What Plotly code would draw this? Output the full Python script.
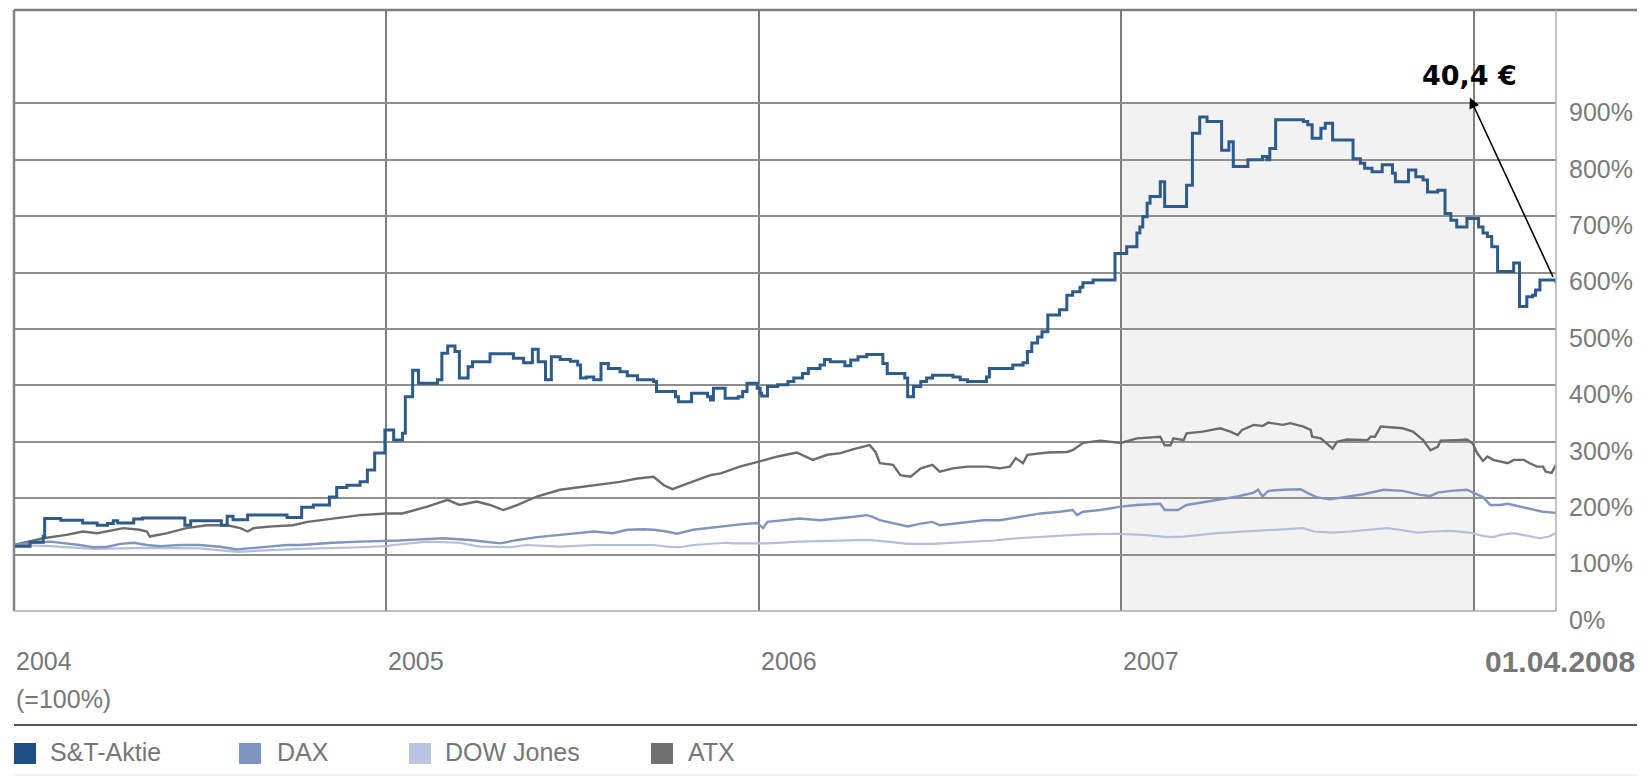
import plotly.graph_objects as go

# ---------------- data ----------------
# x = trading-day index since the start of 2004 (Handelstage)
year_labels = ["2004", "2005", "2006", "2007"]
year_start_day = [0, 255, 510, 758, 1000]   # 2004, 2005, 2006, 2007, 2008
last_day = 1056                              # 01.04.2008
end_label = "01.04.2008"
base_label = "(=100%)"
price_label = "40,4 €"
price_label_day = 997
price_label_pct = 950
arrow_tip_pct = 910

y_ticks = [0, 100, 200, 300, 400, 500, 600, 700, 800, 900]
y_ticktext = [f"{v}%" for v in y_ticks]

series_names = ["S&T-Aktie", "DAX", "DOW Jones", "ATX"]
series_colors = ["#1d4f86", "#7d95c1", "#b9c5e1", "#707070"]

st_day = [0, 11, 20, 21, 32, 47, 57, 64, 68, 71, 82, 88, 116, 117, 121, 136, 142, 146, 150, 160,
          173, 187, 196, 197, 205, 213, 216, 221, 228, 237, 242, 247, 254, 260, 266, 268, 273, 277,
          290, 293, 297, 302, 305, 311, 314, 326, 338, 342, 349, 355, 359, 364, 368, 374, 381, 386,
          388, 392, 397, 402, 407, 415, 420, 427, 438, 440, 453, 455, 464, 475, 477, 479, 487, 496,
          499, 502, 509, 511, 512, 516, 523, 530, 534, 540, 544, 552, 555, 559, 569, 573, 578, 584,
          595, 598, 610, 612, 616, 621, 625, 629, 643, 648, 653, 666, 668, 684, 691, 694, 697, 701,
          704, 708, 716, 721, 725, 730, 732, 739, 754, 762, 769, 771, 773, 776, 778, 785, 788, 803,
          807, 812, 817, 827, 832, 835, 845, 855, 858, 860, 864, 883, 886, 889, 895, 898, 903, 917,
          922, 925, 930, 937, 944, 946, 955, 960, 965, 968, 975, 980, 984, 988, 995, 1003, 1006,
          1009, 1012, 1016, 1027, 1031, 1036, 1040, 1042, 1045, 1052, 1056]
st_val = [115, 122, 132, 164, 161, 156, 152, 155, 160, 156, 163, 165, 165, 152, 160, 160, 152, 168, 162, 170,
          170, 166, 166, 184, 188, 188, 202, 219, 223, 229, 250, 280, 321, 303, 315, 380, 427, 404,
          410, 457, 470, 460, 413, 433, 442, 456, 456, 448, 440, 464, 442, 410, 451, 446, 443, 436,
          413, 415, 410, 439, 430, 424, 417, 410, 407, 389, 380, 371, 386, 380, 374, 395, 377, 380,
          389, 404, 395, 386, 381, 398, 401, 407, 413, 421, 430, 436, 446, 442, 435, 445, 451, 455,
          439, 421, 413, 380, 398, 407, 413, 418, 415, 410, 407, 415, 430, 436, 440, 460, 475, 486,
          495, 525, 534, 560, 566, 574, 582, 587, 634, 646, 670, 681, 699, 723, 735, 761, 717, 755,
          847, 876, 868, 817, 832, 788, 800, 806, 800, 820, 871, 868, 862, 838, 856, 865, 835, 802,
          794, 785, 779, 791, 776, 761, 782, 770, 764, 743, 746, 705, 693, 681, 696, 681, 670,
          664, 646, 602, 617, 540, 557, 560, 569, 587, 587, 581]

dax_day = [0, 13, 25, 36, 45, 54, 64, 73, 82, 91, 100, 114, 127, 141, 153, 160, 173, 187, 196, 210,
           218, 237, 255, 264, 278, 294, 312, 324, 333, 345, 358, 374, 388, 397, 410, 420, 431, 438,
           447, 454, 465, 484, 499, 509, 513, 516, 529, 538, 552, 566, 575, 584, 588, 593, 598, 607,
           612, 621, 629, 634, 643, 653, 664, 675, 689, 703, 716, 725, 728, 732, 744, 758, 769, 785,
           788, 797, 803, 812, 824, 838, 849, 852, 855, 859, 869, 881, 886, 892, 901, 915, 924, 938,
           951, 963, 970, 975, 984, 995, 999, 1006, 1011, 1018, 1023, 1032, 1040, 1047, 1056]
dax_val = [117, 121, 123, 120, 117, 113, 114, 119, 121, 117, 115, 117, 117, 114, 109, 111, 114, 117, 117, 120,
           121, 123, 124, 125, 127, 129, 126, 123, 120, 126, 131, 135, 138, 141, 138, 144, 145, 144,
           141, 137, 144, 150, 154, 156, 147, 158, 161, 164, 161, 164, 167, 170, 167, 161, 158, 152,
           150, 155, 158, 152, 155, 158, 161, 161, 167, 173, 176, 179, 170, 176, 179, 185, 188, 190,
           179, 179, 188, 192, 197, 203, 210, 215, 203, 213, 215, 216, 209, 202, 198, 203, 207, 215,
           213, 206, 204, 210, 213, 215, 210, 202, 188, 188, 190, 185, 180, 176, 174]

dow_day = [0, 25, 54, 93, 127, 153, 168, 196, 237, 255, 260, 283, 305, 319, 340, 351, 374, 397, 420,
           438, 447, 456, 465, 488, 492, 516, 538, 561, 584, 598, 612, 629, 653, 671, 687, 710, 732,
           755, 773, 790, 801, 824, 842, 858, 869, 883, 890, 903, 915, 927, 940, 949, 961, 972, 984,
           997, 1006, 1013, 1018, 1027, 1038, 1045, 1051, 1056]
dow_val = [117, 115, 110, 112, 111, 105, 107, 110, 113, 115, 117, 123, 121, 114, 113, 117, 114, 117, 117,
           117, 114, 113, 117, 121, 120, 120, 123, 125, 126, 123, 119, 119, 123, 125, 129, 133, 136,
           137, 135, 131, 132, 138, 141, 144, 145, 147, 141, 139, 141, 144, 147, 144, 139, 141, 142,
           139, 133, 131, 135, 138, 133, 129, 132, 138]

atx_day = [0, 20, 36, 47, 57, 68, 75, 86, 91, 93, 105, 118, 132, 146, 155, 160, 164, 177, 191, 201,
           218, 237, 255, 266, 283, 297, 305, 317, 326, 335, 345, 358, 374, 397, 415, 427, 438, 445,
           451, 461, 477, 484, 497, 510, 523, 536, 547, 557, 566, 575, 582, 586, 590, 593, 602, 607,
           614, 621, 629, 634, 643, 653, 666, 675, 682, 686, 691, 694, 708, 721, 725, 732, 744, 758,
           769, 785, 788, 792, 794, 801, 803, 814, 826, 833, 838, 841, 849, 855, 859, 869, 874, 883,
           888, 889, 895, 899, 903, 906, 913, 927, 929, 932, 936, 951, 958, 965, 970, 975, 977, 988,
           995, 999, 1002, 1006, 1009, 1013, 1023, 1027, 1034, 1038, 1043, 1047, 1049, 1053, 1056]
atx_val = [117, 129, 135, 141, 138, 144, 147, 144, 141, 132, 138, 147, 152, 152, 147, 141, 147, 150, 152, 158,
           164, 170, 173, 173, 185, 197, 188, 194, 188, 179, 188, 203, 215, 223, 229, 235, 238, 223,
           216, 226, 241, 244, 256, 265, 274, 281, 268, 277, 280, 287, 291, 294, 282, 262, 259, 241,
           238, 253, 259, 247, 253, 256, 256, 253, 256, 271, 262, 277, 281, 282, 285, 298, 302, 298,
           306, 309, 294, 294, 306, 303, 315, 318, 324, 318, 312, 321, 330, 328, 334, 330, 333, 327,
           321, 309, 306, 297, 288, 300, 304, 303, 309, 309, 327, 324, 318, 303, 285, 291, 302, 303,
           304, 297, 280, 266, 274, 268, 262, 268, 268, 262, 256, 256, 247, 245, 259]

# ---------------- figure ----------------
W, H = 1645, 778
ML, MR, MT, MB = 14, 89, 10, 167
plot_w = W - ML - MR
plot_h = H - MT - MB
y_top = 1065.6

fig = go.Figure()

line_specs = [
    (atx_day, atx_val, series_names[3], "#6c6c6c", 2.4, "linear"),
    (dow_day, dow_val, series_names[2], "#b3bedc", 2.2, "linear"),
    (dax_day, dax_val, series_names[1], "#7f95bf", 2.4, "linear"),
    (st_day, st_val, series_names[0], "#2d5b8c", 3.0, "hv"),
]
for xs, ys, name, color, width, shape in line_specs:
    fig.add_trace(go.Scatter(x=xs, y=ys, mode="lines", name=name,
                             line=dict(color=color, width=width, shape=shape),
                             showlegend=False, hoverinfo="skip"))

def px_x(px):
    return (px - ML) / plot_w

def px_y(py):
    return (H - MB - py) / plot_h

shapes = []
# grey highlighted period 2007
shapes.append(dict(type="rect", xref="x", yref="y", x0=year_start_day[3], x1=year_start_day[4],
                   y0=0, y1=900, fillcolor="#f2f2f2", line=dict(width=0), layer="below"))
# frame
shapes.append(dict(type="line", xref="paper", yref="paper", x0=0, x1=0, y0=0, y1=1,
                   line=dict(color="#858585", width=2.5)))
shapes.append(dict(type="line", xref="paper", yref="paper", x0=0, x1=px_x(1637), y0=1, y1=1,
                   line=dict(color="#7d7d7d", width=2.5)))
shapes.append(dict(type="line", xref="paper", yref="paper", x0=1, x1=1, y0=0, y1=1,
                   line=dict(color="#b0b0b0", width=1.5)))
shapes.append(dict(type="line", xref="paper", yref="paper", x0=0, x1=1, y0=0, y1=0,
                   line=dict(color="#a8a8a8", width=1.5)))
# rule above legend
shapes.append(dict(type="line", xref="paper", yref="paper", x0=0, x1=px_x(1637),
                   y0=px_y(725), y1=px_y(725), line=dict(color="#555555", width=2)))
shapes.append(dict(type="line", xref="paper", yref="paper", x0=0, x1=px_x(1637),
                   y0=px_y(775), y1=px_y(775), line=dict(color="#e4e4e4", width=1)))

# legend (squares + text)
legend_sq_px = [14, 239, 409, 651]
legend_txt_px = [48, 275, 443, 686]
for i, name in enumerate(series_names):
    shapes.append(dict(type="rect", xref="paper", yref="paper",
                       x0=px_x(legend_sq_px[i]), x1=px_x(legend_sq_px[i] + 22),
                       y0=px_y(764), y1=px_y(743),
                       fillcolor=series_colors[i], line=dict(width=0)))

annotations = []
label_font = dict(family="Liberation Sans, Arial, sans-serif", size=25, color="#767676")
for i, name in enumerate(series_names):
    annotations.append(dict(xref="paper", yref="paper", x=px_x(legend_txt_px[i]), y=0,
                            yshift=-(752 - (H - MB)), xanchor="left", yanchor="middle",
                            text=name, showarrow=False, font=label_font))

# year labels
for i, lab in enumerate(year_labels):
    annotations.append(dict(xref="x", yref="paper", x=year_start_day[i], y=0, yshift=-50,
                            xanchor="left", yanchor="middle", text=lab, showarrow=False,
                            font=label_font))
annotations.append(dict(xref="x", yref="paper", x=year_start_day[0], y=0, yshift=-88,
                        xanchor="left", yanchor="middle", text=base_label, showarrow=False,
                        font=label_font))
annotations.append(dict(xref="paper", yref="paper", x=1, xshift=81, y=0, yshift=-50,
                        xanchor="right", yanchor="middle", text="<b>" + end_label + "</b>",
                        showarrow=False,
                        font=dict(family="Liberation Sans, Arial, sans-serif", size=30,
                                  color="#777777")))

# price annotation with arrow from last S&T value
annotations.append(dict(xref="x", yref="y", x=price_label_day, y=arrow_tip_pct,
                        axref="x", ayref="y", ax=st_day[-1], ay=st_val[-1],
                        text=" ", showarrow=True, arrowhead=2, arrowsize=1.3, arrowwidth=1.6,
                        arrowcolor="#000000", standoff=0, startstandoff=0))
annotations.append(dict(xref="x", yref="y", x=price_label_day, y=price_label_pct,
                        text="<b>" + price_label + "</b>", showarrow=False,
                        xanchor="center", yanchor="middle",
                        font=dict(family="DejaVu Sans, sans-serif", size=27, color="#000000")))

fig.update_layout(
    width=W, height=H,
    margin=dict(l=ML, r=MR, t=MT, b=MB, pad=0),
    paper_bgcolor="white", plot_bgcolor="white",
    shapes=shapes, annotations=annotations,
    showlegend=False,
    xaxis=dict(range=[0, last_day], tickvals=year_start_day[1:4] + [year_start_day[4]],
               showticklabels=False, ticks="", showgrid=True, gridcolor="#7e7e7e", gridwidth=2,
               zeroline=False, showline=False, fixedrange=True),
    yaxis=dict(range=[0, y_top], side="right", tickvals=y_ticks, ticktext=y_ticktext,
               showgrid=True, gridcolor="#8f8f8f", gridwidth=2, zeroline=False, showline=False,
               ticks="", ticklabelshift=9, ticklabelstandoff=12,
               tickfont=dict(family="Liberation Sans, Arial, sans-serif", size=25, color="#7a7a7a"),
               fixedrange=True),
)

fig.write_html("out.html",
               config={"displayModeBar": False, "staticPlot": True},
               post_script="document.body.style.margin='0px';document.body.style.overflow='hidden';")
